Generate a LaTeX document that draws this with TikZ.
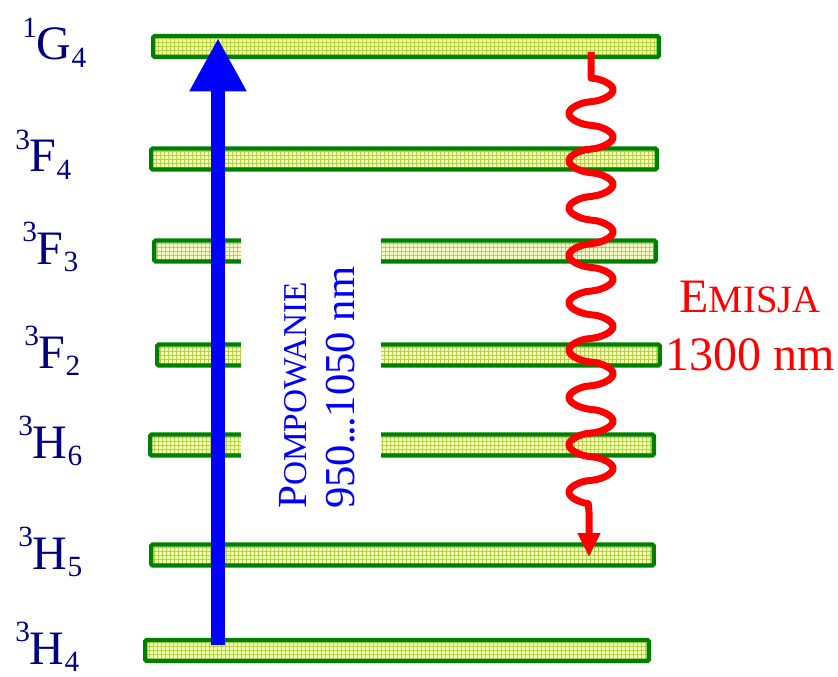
\documentclass[tikz,border=0pt]{standalone}
\usepackage{fontspec}
\setmainfont{Liberation Serif}
\usetikzlibrary{arrows.meta}
\definecolor{bargreen}{HTML}{008000}
\definecolor{barbg}{HTML}{F4FAC8}
\definecolor{bargrid}{HTML}{B2D637}
\definecolor{navylbl}{HTML}{000080}
\definecolor{pumpblue}{HTML}{0000FF}
\definecolor{emred}{HTML}{FF0000}
\newcommand\lvl[3]{\raisebox{17pt}{\fontsize{22}{22}\selectfont #1}#2\raisebox{-5.5pt}{\fontsize{22}{22}\selectfont #3}}
\begin{document}
\begin{tikzpicture}[x=0.75pt,y=-0.75pt,
  bar/.style={draw=bargreen, line width=3.2pt, fill=barbg, rounded corners=1.2pt,
    inner sep=0pt, outer sep=0pt, minimum height=15.9pt,
    path picture={\draw[bargrid, line width=0.7pt, step=3pt]
      ([shift={(-3pt,-3pt)}]path picture bounding box.south west) grid
      ([shift={(3pt,3pt)}]path picture bounding box.north east);}},
  gapfill/.style={fill=white, draw=none},
  lvllabel/.style={text=navylbl, font=\fontsize{36}{36}\selectfont, anchor=base west, inner sep=0pt},
  pumptext/.style={text=pumpblue, align=left, rotate=90, anchor=west, inner sep=0pt,
    font=\fontsize{32}{36}\selectfont},
  emtext/.style={text=emred, font=\fontsize{36}{36}\selectfont, anchor=base, inner sep=0pt},
  pump/.style={draw=pumpblue, line width=10.5pt, -{Triangle[length=40pt,width=40pt]}},
  emis/.style={draw=emred, line width=5.25pt, line join=round, -{Triangle[length=18pt,width=16pt]}}
]
\useasboundingbox (0,0) rectangle (838,677);

% energy levels
\node[bar, minimum width=379.3pt] (g4) at (406,46.5) {};
\node[bar, minimum width=379.3pt] (f4) at (404,159) {};
\node[bar, minimum width=376.3pt] (f3) at (405,251) {};
\node[bar, minimum width=377.0pt] (f2) at (408.5,355) {};
\node[bar, minimum width=377.8pt] (h6) at (402,445) {};
\node[bar, minimum width=377.0pt] (h5) at (402.5,555) {};
\node[bar, minimum width=377.8pt] (h4) at (397,650.5) {};

% gaps in the middle levels
\fill[gapfill] (241,236) rectangle (381,266);
\fill[gapfill] (241,340) rectangle (381,370);
\fill[gapfill] (241,430) rectangle (381,460);

% level labels
\node[lvllabel] (lg4) at (22,60) {\lvl{1}{G}{4}};
\node[lvllabel] (lf4) at (15,172) {\lvl{3}{F}{4}};
\node[lvllabel] (lf3) at (22,264) {\lvl{3}{F}{3}};
\node[lvllabel] (lf2) at (24,368) {\lvl{3}{F}{2}};
\node[lvllabel] (lh6) at (18,458) {\lvl{3}{H}{6}};
\node[lvllabel] (lh5) at (18,569) {\lvl{3}{H}{5}};
\node[lvllabel] (lh4) at (15,664) {\lvl{3}{H}{4}};

% pumping arrow
\coordinate (pumpfrom) at (218,645);
\coordinate (pumpto) at (218,38);
\draw[pump] (pumpfrom) -- (pumpto);

\node[pumptext] (pumplbl) at (317,509)
  {{\fontsize{31}{36}\selectfont P}{\fontsize{25}{36}\selectfont OMPOWANIE}\\
   950.\kern-0.05em.\kern-0.05em.1050 nm};

% emission
\coordinate (emtop) at (591,52);
\coordinate (embot) at (589,557);
\draw[emis] (emtop) -- plot[domain=0:9, samples=451, variable=\t]
  ({591+22*sign(sin(360*\t))*pow(abs(sin(360*\t))+0.0001,0.6)}, {78+47.33*\t})
  -- (589,512) -- (embot);

\node[emtext] (em1) at (750,312) {E{\fontsize{29}{29}\selectfont MISJA}};
\node[emtext] (em2) at (750,370) {1300 nm};
\end{tikzpicture}
\end{document}
